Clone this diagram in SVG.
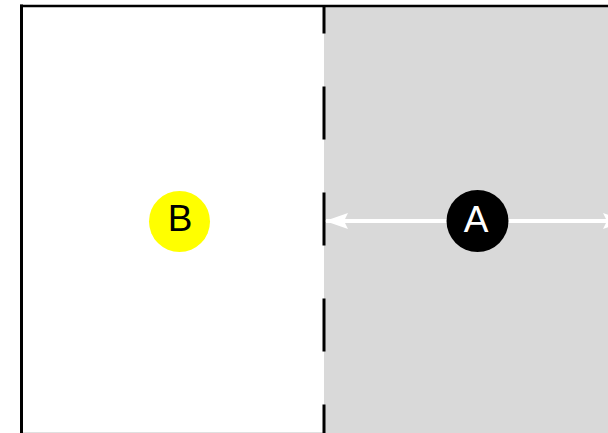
<svg xmlns="http://www.w3.org/2000/svg" width="608" height="433" viewBox="0 0 608 433">
  <style>
    .label { font-family: "Liberation Sans", Arial, sans-serif; font-size: 37px; text-anchor: middle; }
    .frame { stroke: #000; fill: none; }
    .conn { stroke: #fff; stroke-width: 4; fill: none; }
  </style>
  <defs>
    <marker id="head" viewBox="0 0 23 16" refX="22" refY="8" markerWidth="23" markerHeight="16" markerUnits="userSpaceOnUse" orient="auto-start-reverse">
      <path d="M0,0 L23,8 L0,16 L4,8 Z" fill="#fff"/>
    </marker>
  </defs>

  <!-- shaded half -->
  <rect x="324" y="6" width="284" height="427" fill="#d9d9d9"/>
  <!-- bottom edge -->
  <line x1="22" y1="432.5" x2="324" y2="432.5" stroke="#e0e0e0" stroke-width="1"/>
  <!-- outer frame -->
  <line class="frame" x1="21.5" y1="4.5" x2="21.5" y2="433" stroke-width="3"/>
  <line class="frame" x1="20" y1="6" x2="608" y2="6" stroke-width="2.5"/>
  <!-- dashed divider -->
  <line class="frame" x1="324" y1="7" x2="324" y2="433" stroke-width="3" stroke-dasharray="53 53" stroke-dashoffset="26.5"/>

  <g id="connectors">
    <line class="conn" x1="326" y1="221" x2="447" y2="221" marker-start="url(#head)"/>
    <line class="conn" x1="508" y1="221" x2="625" y2="221" marker-end="url(#head)"/>
  </g>

  <g id="node-B">
    <circle cx="179.5" cy="221.5" r="30.5" fill="#ffff00"/>
    <text class="label" x="180" y="231" fill="#000">B</text>
  </g>

  <g id="node-A">
    <circle cx="477.5" cy="221" r="31" fill="#000"/>
    <text class="label" x="476" y="231.5" fill="#fff">A</text>
  </g>
</svg>
